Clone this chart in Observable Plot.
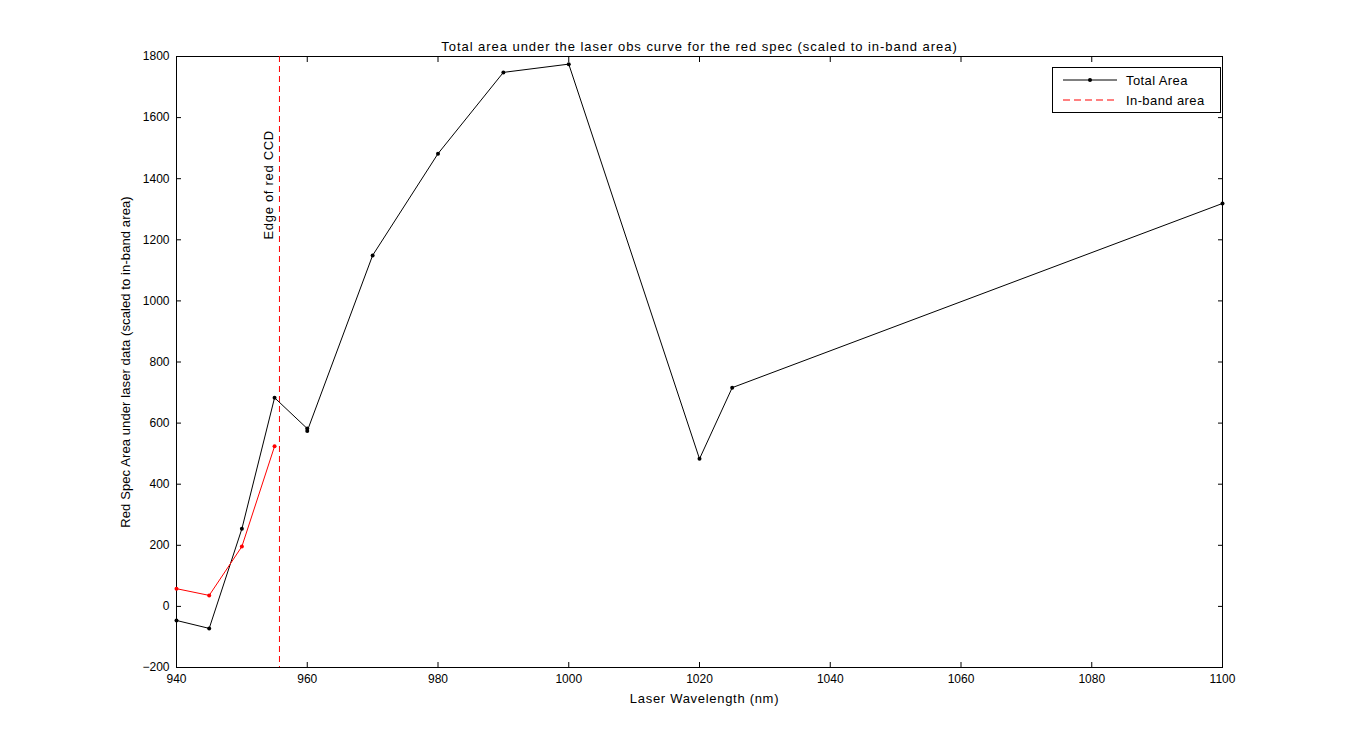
<!DOCTYPE html>
<html>
<head>
<meta charset="utf-8">
<script src="https://cdn.jsdelivr.net/npm/d3@7"></script>
<script src="https://cdn.jsdelivr.net/npm/@observablehq/plot@0.6"></script>
<style>
  html, body { margin: 0; padding: 0; background: #fff; }
  #wrap { position: relative; width: 1350px; height: 750px; font-family: "Liberation Sans", Arial, sans-serif; }
  #legend { position: absolute; left: 1052px; top: 67px; width: 167px; height: 44px; background: #fff; border: 1px solid #000; font-size: 13px; letter-spacing: 0.4px; }
  #legend .row { position: absolute; left: 8px; height: 16px; display: flex; align-items: center; }
  #legend svg { margin-right: 7px; }
</style>
</head>
<body>
<div id="wrap"></div>
<script>
// Data
const wavelengths = [940, 945, 950, 955, 960, 960, 970, 980, 990, 1000, 1020, 1025, 1100];
const totalArea   = [-46, -72, 254, 683, 582, 574, 1149, 1482, 1748, 1775, 483, 716, 1319];
const inbandWavelengths = [940, 945, 950, 955];
const inbandArea  = [58, 36, 196, 524];
const ccdEdge = 955.75;
const ccdLabel = "Edge of red CCD";
const ccdLabelX = 954.1;
const ccdLabelY = 1380;
const xTicks = [940, 960, 980, 1000, 1020, 1040, 1060, 1080, 1100];
const yTicks = [-200, 0, 200, 400, 600, 800, 1000, 1200, 1400, 1600, 1800];
const titleText = "Total area under the laser obs curve for the red spec (scaled to in-band area)";
const xLabel = "Laser Wavelength (nm)";
const yLabel = "Red Spec Area under laser data (scaled to in-band area)";
const seriesNames = ["Total Area", "In-band area"];

const totalData = wavelengths.map((w, i) => ({x: w, y: totalArea[i]}));
const inbandData = inbandWavelengths.map((w, i) => ({x: w, y: inbandArea[i]}));
const fmt = d3.format("d");

const chart = Plot.plot({
  width: 1350,
  height: 750,
  marginLeft: 176,
  marginRight: 128,
  marginTop: 56,
  marginBottom: 83,
  style: {fontFamily: '"Liberation Sans", Arial, sans-serif', fontSize: "12px", background: "#fff", color: "#000"},
  x: {domain: [940, 1100], ticks: xTicks},
  y: {domain: [-200, 1800], ticks: yTicks},
  marks: [
    Plot.axisX({ticks: xTicks, tickSize: -5, tickPadding: 12, tickFormat: fmt, label: null, fontSize: 12}),
    Plot.axisX({ticks: xTicks, anchor: "top", tickSize: -5, tickFormat: () => "", label: null}),
    Plot.axisY({ticks: yTicks, tickSize: -5, tickPadding: 12, tickFormat: fmt, label: null, fontSize: 12}),
    Plot.axisY({ticks: yTicks, anchor: "right", tickSize: -5, tickFormat: () => "", label: null}),
    Plot.frame({stroke: "#000"}),
    Plot.ruleX([ccdEdge], {stroke: "#ff0000", strokeDasharray: "6,4", strokeWidth: 1}),
    Plot.line(totalData, {x: "x", y: "y", stroke: "#000", strokeWidth: 1}),
    Plot.dot(totalData, {x: "x", y: "y", fill: "#000", r: 2, symbol: "circle"}),
    Plot.line(inbandData, {x: "x", y: "y", stroke: "#ff0000", strokeWidth: 1}),
    Plot.dot(inbandData, {x: "x", y: "y", fill: "#ff0000", r: 2, symbol: "circle"}),
    Plot.text([ccdLabel], {x: () => ccdLabelX, y: () => ccdLabelY, text: d => d, rotate: -90, fontSize: 13, fill: "#000"}),
    Plot.text([titleText], {frameAnchor: "top", dy: -15, text: d => d, fontSize: 13, fill: "#000"}),
    Plot.text([xLabel], {frameAnchor: "bottom", dy: 35, dx: 5, text: d => d, fontSize: 13, fill: "#000"}),
    Plot.text([yLabel], {frameAnchor: "left", dx: -51, rotate: -90, textAnchor: "middle", text: d => d, fontSize: 13, fill: "#000"})
  ]
});

const texts = d3.select(chart).selectAll("g[aria-label='text'] text");
texts.style("letter-spacing", "0.7px");
texts.filter(function() { return this.textContent === titleText; }).style("letter-spacing", "0.95px");
texts.filter(function() { return this.textContent === yLabel; }).style("letter-spacing", "0.1px");

const wrap = document.getElementById("wrap");
wrap.appendChild(chart);

const legend = document.createElement("div");
legend.id = "legend";
legend.innerHTML = `
  <div class="row" style="top:4px"><svg width="58" height="10"><line x1="2" y1="5" x2="56" y2="5" stroke="#000" stroke-width="1"/><circle cx="29" cy="5" r="2" fill="#000"/></svg><span>${seriesNames[0]}</span></div>
  <div class="row" style="top:24px"><svg width="58" height="10"><line x1="2" y1="5" x2="56" y2="5" stroke="#ff0000" stroke-width="1" stroke-dasharray="7,4"/></svg><span>${seriesNames[1]}</span></div>
`;
wrap.appendChild(legend);
</script>
</body>
</html>
